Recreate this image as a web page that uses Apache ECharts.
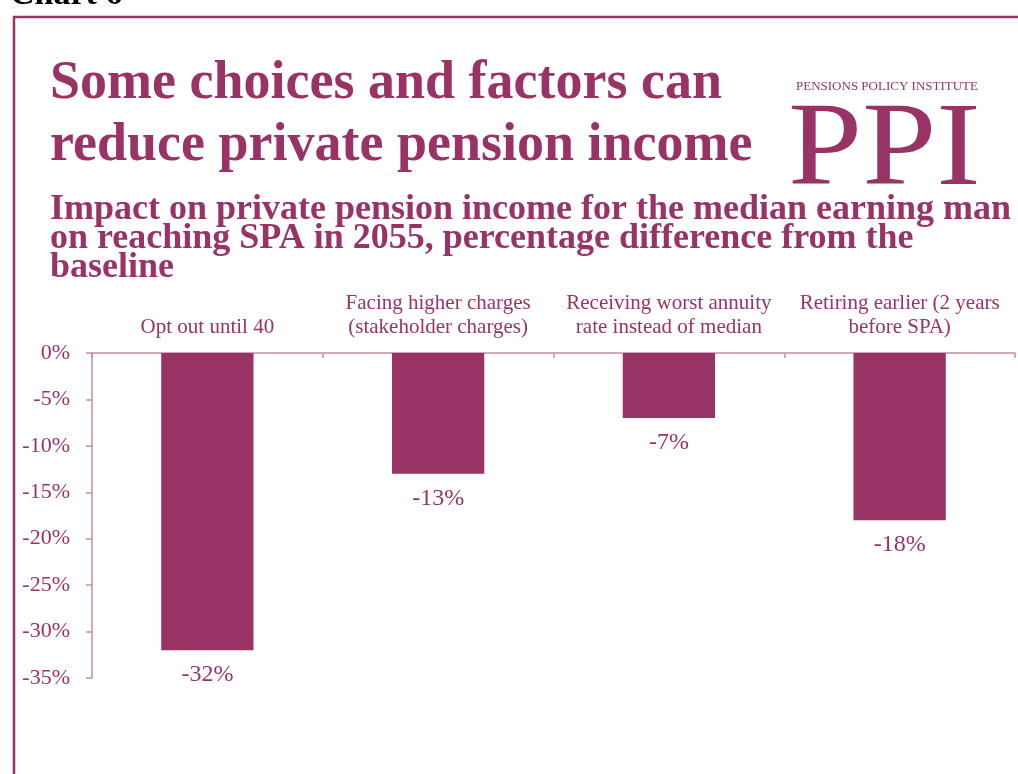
<!DOCTYPE html>
<html>
<head>
<meta charset="utf-8">
<script src="https://cdn.jsdelivr.net/npm/echarts@6/dist/echarts.min.js"></script>
<style>
  html, body { margin: 0; padding: 0; background: #fff; }
  #chart { width: 1018px; height: 774px; }
</style>
</head>
<body>
<div id="chart"></div>
<script>
// Scenario categories (top axis) and impact on private pension income, in %
const categories = [
  'Opt out until 40',
  'Facing higher charges\n(stakeholder charges)',
  'Receiving worst annuity\nrate instead of median',
  'Retiring earlier (2 years\nbefore SPA)'
];
const impactPct = [-32, -13, -7, -18];
const yTicks = { min: -35, max: 0, step: 5 };

const plum = '#993366';
const axisPlum = '#c08fa8';
const serif = '"Liberation Serif", "DejaVu Serif", serif';

const chart = echarts.init(document.getElementById('chart'), null, { renderer: 'canvas' });

chart.setOption({
  backgroundColor: '#fff',
  animation: false,
  grid: { left: 92, right: 3, top: 353, bottom: 96, containLabel: false },
  xAxis: {
    type: 'category',
    position: 'top',
    data: categories,
    axisLine: { show: true, lineStyle: { color: axisPlum, width: 1.5 } },
    axisTick: { show: true, inside: true, length: 5, lineStyle: { color: axisPlum, width: 1.5 } },
    axisLabel: {
      color: plum, fontFamily: serif, fontSize: 21, lineHeight: 24,
      margin: 14, interval: 0
    },
    splitLine: { show: false }
  },
  yAxis: {
    type: 'value',
    min: yTicks.min, max: yTicks.max, interval: yTicks.step,
    axisLine: { show: true, lineStyle: { color: axisPlum, width: 1.5 } },
    axisTick: { show: true, length: 6, lineStyle: { color: axisPlum, width: 1.5 } },
    axisLabel: {
      color: plum, fontFamily: serif, fontSize: 22, margin: 22,
      formatter: v => v + '%'
    },
    splitLine: { show: false }
  },
  series: [{
    type: 'bar',
    data: impactPct,
    barWidth: '40%',
    itemStyle: { color: plum },
    label: {
      show: true, position: 'bottom', distance: 13,
      color: plum, fontFamily: serif, fontSize: 24,
      formatter: p => p.value + '%'
    }
  }],
  graphic: [
    // page frame
    { type: 'polyline', shape: { points: [[14, 774], [14, 17], [1018, 17]] },
      style: { stroke: plum, lineWidth: 2.5, fill: null } },
    // cut-off heading above the frame
    { type: 'text', left: 10, top: -22,
      style: { text: '{a|Chart 6}{b|22}', rich: {
        a: { fontFamily: serif, fontWeight: 'bold', fontSize: 34, fill: '#000' },
        b: { fontFamily: serif, fontWeight: 'bold', fontSize: 14, fill: '#000', verticalAlign: 'top' }
      } } },
    // title
    { type: 'text', left: 50, top: 53,
      style: { text: 'Some choices and factors can\nreduce private pension income',
        fontFamily: serif, fontWeight: 'bold', fontSize: 54, lineHeight: 62, fill: plum } },
    // PPI logo
    { type: 'text', left: 796, top: 80,
      style: { text: 'PENSIONS POLICY INSTITUTE', fontFamily: serif, fontSize: 13, fill: plum } },
    { type: 'text', x: 788, y: 94, scaleX: 1.13,
      style: { text: 'PPI', fontFamily: serif, fontSize: 118, fill: plum } },
    // subtitle
    { type: 'text', left: 50, top: 192,
      style: { text: 'Impact on private pension income for the median earning man\non reaching SPA in 2055, percentage difference from the\nbaseline',
        fontFamily: serif, fontWeight: 'bold', fontSize: 36, lineHeight: 29, fill: plum } }
  ]
});
</script>
</body>
</html>
